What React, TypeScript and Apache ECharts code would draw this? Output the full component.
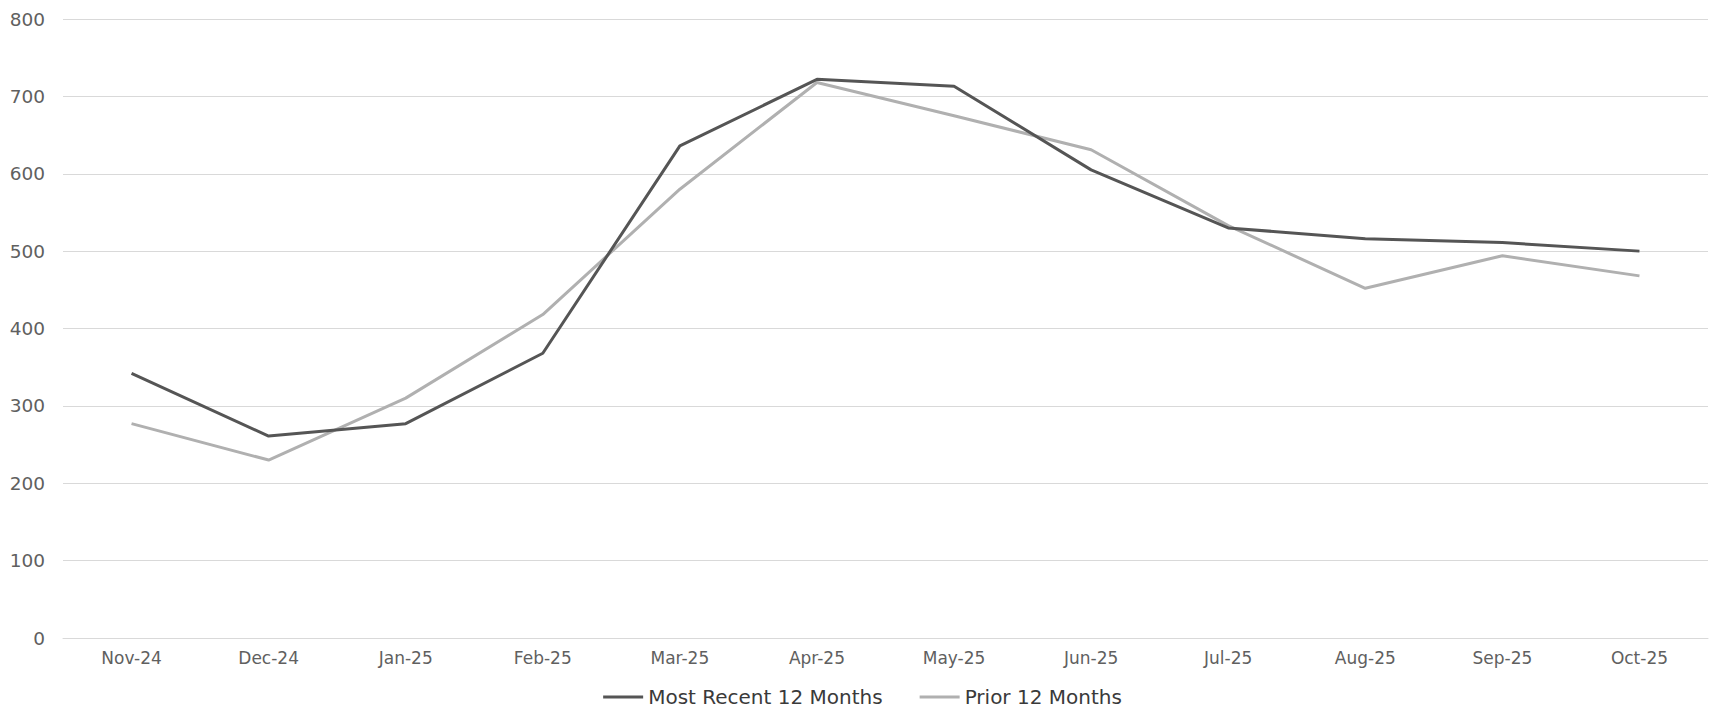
import React, { useEffect, useRef } from "react";
import * as echarts from "echarts";

const categories = ["Nov-24", "Dec-24", "Jan-25", "Feb-25", "Mar-25", "Apr-25", "May-25", "Jun-25", "Jul-25", "Aug-25", "Sep-25", "Oct-25"];
const mostRecent = [342, 261, 277, 368, 636, 722, 713, 605, 530, 516, 511, 500];
const prior = [277, 230, 310, 418, 580, 718, 675, 631, 533, 452, 494, 468];

export default function App() {
  const ref = useRef<HTMLDivElement>(null);
  useEffect(() => {
    document.body.style.margin = "0";
    const chart = echarts.init(ref.current!, null, { renderer: "svg" });
    const font = "'DejaVu Sans', sans-serif";
    chart.setOption({
      animation: false,
      backgroundColor: "#ffffff",
      grid: { left: 63, right: 17, top: 19, bottom: 78 },
      legend: {
        top: 682,
        left: "center",
        itemWidth: 40,
        itemHeight: 3,
        itemGap: 37,
        icon: "rect",
        textStyle: { color: "#3a3a3a", fontSize: 20, fontFamily: font },
        data: ["Most Recent 12 Months", "Prior 12 Months"],
      },
      xAxis: {
        type: "category",
        data: categories,
        boundaryGap: true,
        axisLine: { show: true, lineStyle: { color: "#d9d9d9", width: 1 } },
        axisTick: { show: false },
        axisLabel: { color: "#606060", fontSize: 17, fontFamily: font, margin: 11 },
      },
      yAxis: {
        type: "value",
        min: 0,
        max: 800,
        interval: 100,
        axisLine: { show: false },
        axisTick: { show: false },
        splitLine: { lineStyle: { color: "#d9d9d9", width: 1 } },
        axisLabel: { color: "#606060", fontSize: 18.5, fontFamily: font, margin: 18 },
      },
      series: [
        {
          name: "Prior 12 Months",
          type: "line",
          data: prior,
          symbol: "none",
          lineStyle: { color: "#b0b0b0", width: 3 },
          itemStyle: { color: "#b0b0b0" },
        },
        {
          name: "Most Recent 12 Months",
          type: "line",
          data: mostRecent,
          symbol: "none",
          lineStyle: { color: "#555555", width: 3 },
          itemStyle: { color: "#555555" },
        },
      ],
    });
    return () => chart.dispose();
  }, []);
  return <div ref={ref} style={{ width: 1725, height: 716 }} />;
}
